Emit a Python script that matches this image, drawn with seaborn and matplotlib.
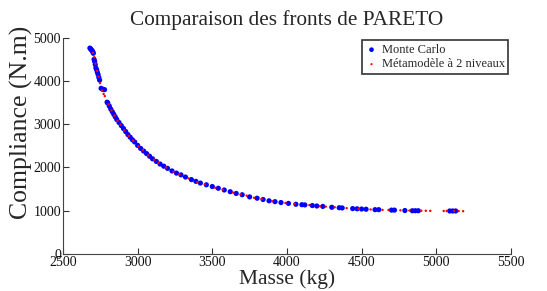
import numpy as np
import pandas as pd
import matplotlib
matplotlib.use("Agg")
import matplotlib.pyplot as plt
import seaborn as sns

# Monte Carlo Pareto front
mc_masse = [2680, 2685, 2690, 2695, 2700, 2703, 2708, 2712, 2716, 2720, 2725, 2730,
            2735, 2740, 2745, 2755, 2765, 2778, 2795, 2800, 2810, 2820, 2830, 2840,
            2850, 2860, 2875, 2890, 2905, 2920, 2935, 2950, 2965, 2980, 3000, 3020,
            3040, 3060, 3080, 3100, 3125, 3150, 3175, 3200, 3230, 3260, 3290, 3320,
            3360, 3390, 3420, 3460, 3500, 3540, 3580, 3620, 3660, 3700, 3750, 3800,
            3840, 3880, 3920, 3960, 4010, 4060, 4100, 4120, 4170, 4200, 4240, 4300,
            4350, 4370, 4440, 4470, 4500, 4530, 4590, 4615, 4700, 4720, 4790, 4840,
            4860, 4880, 5090, 5110, 5130]
mc_compliance = [4760, 4740, 4720, 4700, 4670, 4640, 4500, 4450, 4380, 4300, 4260, 4200,
                 4150, 4080, 4020, 3830, 3810, 3800, 3510, 3490, 3420, 3350, 3290, 3230,
                 3170, 3110, 3040, 2970, 2900, 2830, 2760, 2700, 2640, 2590, 2510, 2440,
                 2380, 2320, 2260, 2200, 2140, 2080, 2030, 1980, 1920, 1870, 1830, 1780,
                 1720, 1680, 1640, 1600, 1560, 1520, 1480, 1440, 1400, 1370, 1320, 1290,
                 1260, 1230, 1210, 1190, 1170, 1150, 1140, 1135, 1120, 1110, 1100, 1080,
                 1070, 1065, 1050, 1045, 1040, 1035, 1025, 1025, 1015, 1015, 1005, 1000,
                 1000, 1000, 995, 995, 995]

# Two-level metamodel front
mm_masse = [2700, 2710, 2718, 2728, 2738, 2748, 2760, 2772, 2780, 2805, 2825, 2845,
            2865, 2885, 2910, 2940, 2970, 3005, 3035, 3070, 3110, 3140, 3190, 3240,
            3280, 3340, 3400, 3450, 3520, 3570, 3640, 3690, 3730, 3780, 3830, 3900,
            3990, 4050, 4150, 4220, 4260, 4320, 4400, 4480, 4560, 4640, 4680, 4760,
            4820, 4900, 4930, 4960, 5050, 5070, 5120, 5150, 5180]
mm_compliance = [4650, 4550, 4400, 4230, 4100, 3950, 3780, 3700, 3650, 3460, 3320, 3200,
                 3080, 2990, 2860, 2730, 2620, 2490, 2400, 2280, 2180, 2110, 2000, 1900,
                 1840, 1750, 1660, 1610, 1530, 1490, 1420, 1380, 1350, 1300, 1270, 1220,
                 1180, 1160, 1130, 1105, 1095, 1080, 1060, 1045, 1030, 1020, 1018, 1010,
                 1005, 1000, 1000, 998, 995, 995, 993, 992, 990]

mc = pd.DataFrame({"Masse": mc_masse, "Compliance": mc_compliance})
mm = pd.DataFrame({"Masse": mm_masse, "Compliance": mm_compliance})

sns.set_style("ticks")
plt.rcParams["font.family"] = ["Liberation Serif", "DejaVu Serif"]
plt.rcParams["xtick.direction"] = "in"
plt.rcParams["ytick.direction"] = "in"

fig = plt.figure(figsize=(5.47, 2.91), dpi=100)
ax = fig.add_axes([0.1152, 0.1271, 0.8188, 0.7433])

sns.scatterplot(data=mc, x="Masse", y="Compliance", ax=ax, color="#0000ff",
                s=14, marker="o", edgecolor="none", label="Monte Carlo")
sns.scatterplot(data=mm, x="Masse", y="Compliance", ax=ax, color="#ff0000",
                s=3, marker="o", edgecolor="none", label="Métamodèle à 2 niveaux")

ax.set_xlim(2500, 5500)
ax.set_ylim(0, 5000)
ax.set_xticks(np.arange(2500, 5501, 500))
ax.set_yticks(np.arange(0, 5001, 1000))
ax.tick_params(labelsize=10, length=4, width=0.8, pad=1.5,
               colors="#333333", labelcolor="#111111")
sns.despine(ax=ax)
for s in ["left", "bottom"]:
    ax.spines[s].set_color("#444444")

ax.set_title("Comparaison des fronts de PARETO", fontsize=15.3, pad=9)
ax.set_xlabel("Masse (kg)", fontsize=15.5)
ax.set_ylabel("Compliance (N.m)", fontsize=18.5)
ax.xaxis.set_label_coords(0.5, -0.072)
ax.yaxis.set_label_coords(-0.068, 0.61)

leg = ax.legend(loc="upper right", fontsize=9, frameon=True, fancybox=False,
                handletextpad=0.3, borderpad=0.3, labelspacing=0.2,
                handlelength=1.0, borderaxespad=0.2, markerscale=0.9)
leg.get_frame().set_edgecolor("black")
leg.get_frame().set_linewidth(1.2)

fig.savefig("out.png", dpi=100)
